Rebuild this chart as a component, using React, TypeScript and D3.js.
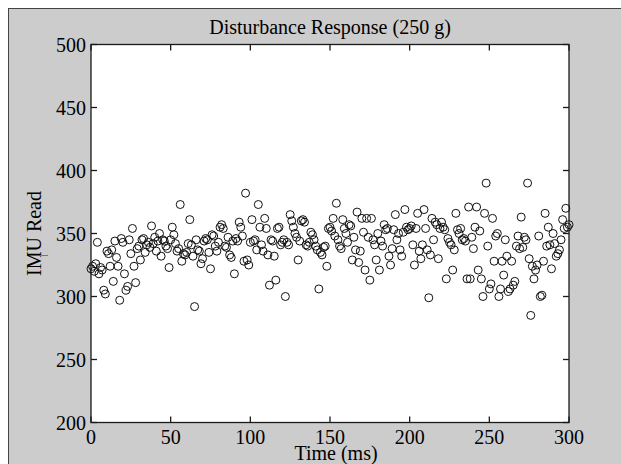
import React from "react";
import * as d3 from "d3";

// IMU readings, one sample per ms (t = 0 .. 300)
const readsA: number[] = [
  322, 324, 320, 326, 343, 318, 323, 321, 305, 302,
  336, 334, 324, 337, 312, 344, 331, 324, 297, 346,
  343, 318, 305, 308, 345, 334, 354, 324, 311, 338,
  340, 329, 345, 346, 335, 341, 343, 339, 356, 342,
  347, 336, 344, 350, 332, 345, 344, 340, 338, 323,
  345, 355, 349, 342, 336, 338, 373, 328, 334, 333,
  335, 342, 361, 341, 332, 292, 345, 337, 336, 326,
  330, 344, 346, 345, 335, 322, 349, 348, 340, 336,
  343, 355, 357, 354, 340, 339, 347, 333, 331, 344,
  318, 346, 344, 359, 355, 348, 328, 382, 329, 325,
];
const readsB: number[] = [
  343, 361, 344, 345, 337, 373, 355, 341, 336, 362,
  354, 333, 309, 345, 344, 332, 313, 354, 355, 341,
  343, 345, 300, 343, 341, 365, 360, 355, 350, 347,
  329, 344, 360, 361, 359, 341, 340, 343, 351, 349,
  345, 340, 337, 306, 335, 333, 339, 340, 324, 354,
  355, 352, 362, 348, 374, 345, 340, 338, 361, 354,
  350, 343, 357, 356, 329, 347, 337, 367, 327, 336,
  362, 351, 321, 362, 347, 313, 362, 345, 341, 329,
  350, 321, 344, 340, 357, 353, 354, 332, 325, 338,
  353, 365, 345, 350, 337, 332, 351, 369, 355, 353,
];
const readsC: number[] = [
  354, 356, 341, 325, 354, 366, 336, 330, 341, 369,
  354, 337, 299, 333, 362, 345, 359, 357, 330, 354,
  359, 355, 353, 314, 346, 343, 341, 321, 337, 366,
  353, 350, 354, 345, 346, 344, 314, 371, 314, 347,
  338, 355, 371, 321, 352, 314, 300, 366, 390, 340,
  306, 310, 362, 328, 348, 350, 300, 306, 328, 317,
  345, 332, 304, 306, 328, 309, 312, 340, 348, 338,
  363, 339, 347, 345, 390, 330, 285, 324, 314, 321,
  325, 348, 300, 301, 328, 366, 340, 355, 341, 322,
  350, 342, 332, 334, 337, 345, 361, 354, 370, 355,
  357,
];

const xTicks: number[] = [0, 50, 100, 150, 200, 250, 300];
const yTicks: number[] = [200, 250, 300, 350, 400, 450, 500];

const TITLE = "Disturbance Response (250 g)";
const XLABEL = "Time (ms)";
const YLABEL = "IMU Read";

export default function App() {
  const W = 621;
  const H = 464;
  const left = 91;
  const right = 569;
  const top = 44.5;
  const bottom = 422.5;
  const x = d3.scaleLinear().domain([0, 300]).range([left, right]);
  const y = d3.scaleLinear().domain([200, 500]).range([bottom, top]);
  const reads = [...readsA, ...readsB, ...readsC];
  const font = "'Liberation Serif', 'Times New Roman', serif";
  const tl = 6;
  const axisColor = "#1a1a1a";

  return (
    <svg
      width={W}
      height={H}
      style={{ position: "absolute", left: 0, top: 0, display: "block" }}
      fontFamily={font}
    >
      <rect x={0} y={0} width={W} height={H} fill="#ffffff" />
      <rect x={8.5} y={8.5} width={W} height={H} fill="#cccccc" stroke="#444" strokeWidth={1} />
      <rect x={left} y={top} width={right - left} height={bottom - top} fill="#ffffff" />

      {/* data */}
      <g fill="none" stroke="#111" strokeWidth={1}>
        {reads.map((v, i) => (
          <circle key={i} cx={x(i)} cy={y(v)} r={4} />
        ))}
      </g>

      {/* axes box */}
      <rect
        x={left}
        y={top}
        width={right - left}
        height={bottom - top}
        fill="none"
        stroke={axisColor}
        strokeWidth={1.3}
      />
      {/* ticks */}
      <g stroke={axisColor} strokeWidth={1.3}>
        {xTicks.map((t) => (
          <g key={"xt" + t}>
            <line x1={x(t)} x2={x(t)} y1={bottom} y2={bottom - tl} />
            <line x1={x(t)} x2={x(t)} y1={top} y2={top + tl} />
          </g>
        ))}
        {yTicks.map((t) => (
          <g key={"yt" + t}>
            <line x1={left} x2={left + tl} y1={y(t)} y2={y(t)} />
            <line x1={right} x2={right - tl} y1={y(t)} y2={y(t)} />
          </g>
        ))}
      </g>
      {/* tick labels */}
      <g fontSize={20} fill="#000">
        {xTicks.map((t) => (
          <text key={"xl" + t} x={x(t)} y={bottom + 21} textAnchor="middle">
            {t}
          </text>
        ))}
        {yTicks.map((t) => (
          <text key={"yl" + t} x={left - 5} y={y(t) + 7} textAnchor="end">
            {t}
          </text>
        ))}
      </g>
      {/* title and labels */}
      <text x={(left + right) / 2} y={34} textAnchor="middle" fontSize={20} fill="#000">
        {TITLE}
      </text>
      <text x={336} y={460} textAnchor="middle" fontSize={20} fill="#000">
        {XLABEL}
      </text>
      <text
        transform={`translate(41, ${(top + bottom) / 2}) rotate(-90)`}
        textAnchor="middle"
        fontSize={20}
        fill="#000"
      >
        {YLABEL}
      </text>
      <line x1={40} x2={48} y1={255.5} y2={255.5} stroke="#777" strokeWidth={1} />
    </svg>
  );
}
